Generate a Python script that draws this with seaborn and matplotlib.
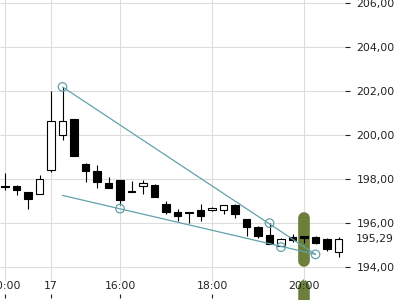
import numpy as np
import pandas as pd
import matplotlib
matplotlib.use("Agg")
import matplotlib.pyplot as plt
import matplotlib.transforms as mtransforms
from matplotlib.patches import Polygon
import seaborn as sns

# ---- data ----
tick_pos = [0, 4, 10, 18, 26]
tick_labels = ["20:00", "17", "16:00", "18:00", "20:00"]
y_ticks = [194, 196, 198, 200, 202, 204, 206]
y_tick_labels = ["194,00", "196,00", "198,00", "200,00", "202,00", "204,00", "206,00"]

opens = [197.68, 197.70, 197.42, 197.33, 198.41, 200.00, 200.74, 198.70, 198.39, 197.83,
         197.97, 197.45, 197.70, 197.74, 196.88, 196.53, 196.51, 196.60, 196.59, 196.60,
         196.83, 196.18, 195.85, 195.45, 194.97, 195.38, 195.41, 195.38, 195.27, 194.68]
highs = [198.29, 197.75, 197.42, 198.20, 202.01, 202.20, 200.76, 198.72, 198.65, 198.09,
         197.98, 197.94, 197.97, 197.79, 197.01, 196.66, 196.52, 196.88, 196.74, 196.84,
         196.86, 196.19, 195.86, 196.03, 195.33, 195.51, 195.42, 195.42, 195.32, 195.36]
lows = [197.51, 197.27, 196.64, 197.33, 198.32, 199.79, 199.05, 197.89, 197.59, 197.61,
        196.83, 197.42, 197.32, 197.20, 196.41, 196.12, 196.03, 196.12, 196.55, 196.41,
        196.23, 195.42, 195.32, 195.04, 194.96, 195.16, 195.09, 195.08, 194.75, 194.48]
closes = [197.64, 197.50, 197.12, 198.01, 200.64, 200.64, 199.07, 198.39, 197.86, 197.62,
          197.04, 197.43, 197.85, 197.21, 196.50, 196.35, 196.49, 196.35, 196.70, 196.83,
          196.41, 195.85, 195.44, 195.05, 195.27, 195.24, 195.33, 195.09, 194.82, 195.29]

last_price = 195.29
last_label = "195,29"

upper_x = [5, 27]
upper_y = [202.20, 194.59]
lower_x = [5, 27]
lower_y = [197.27, 194.59]
pivot_x = [5, 23, 27, 10, 24]
pivot_y = [202.20, 196.01, 194.59, 196.67, 194.92]

highlight_x = 26
highlight_lo = 194.03
highlight_hi = 196.50

# ---- style ----
sns.set_theme(style="white")
plt.rcParams["font.family"] = ["DejaVu Sans"]

TEAL = "#62a2aa"
GREEN = "#6c7f3b"
GRID = "#dcdcdc"
TXT = "#222222"

fig = plt.figure(figsize=(4, 3), dpi=100)
ax = fig.add_axes([0, 1 - 281 / 300, 345 / 400, 281 / 300])
ax.set_xlim(-5 / 11.5, 340 / 11.5)
ax.set_ylim(193.38, 206.15)

for s in ax.spines.values():
    s.set_visible(False)

ax.set_axisbelow(True)
ax.grid(True, color=GRID, linewidth=0.8)

ax.set_xticks(tick_pos)
ax.set_xticklabels(tick_labels)
ax.tick_params(axis="x", length=0, pad=0.3, labelsize=7.8, labelcolor=TXT)

ax.yaxis.tick_right()
ax.set_yticks(y_ticks)
ax.set_yticklabels(y_tick_labels)
ax.tick_params(axis="y", direction="out", length=3.6, width=0.8, color=TXT,
               pad=4.6, labelsize=7.8, labelcolor=TXT, right=True, left=False)

# secondary axis for the small tick marks under the time labels
sec = ax.secondary_xaxis((281 - 297.5) / 281)
sec.set_xticks(tick_pos)
sec.tick_params(axis="x", direction="in", length=2.6, width=0.8, color=TXT,
                labelbottom=False, labeltop=False)
for s in sec.spines.values():
    s.set_visible(False)

df = pd.DataFrame({"open": opens, "high": highs, "low": lows, "close": closes})
df["x"] = np.arange(len(df))
df["up"] = df["close"] >= df["open"]

# highlight bar (rounded)
cap = 5.85 / 22.0
ax.plot([highlight_x, highlight_x], [highlight_lo + cap, highlight_hi - cap],
        color=GREEN, linewidth=8.4, solid_capstyle="round", zorder=1.5)

# arrow below axis
trans = mtransforms.blended_transform_factory(ax.transData, ax.transAxes)
arrow = Polygon([[highlight_x - 0.5, -0.0167], [highlight_x - 0.3, -0.003],
                 [highlight_x, 0.0071], [highlight_x + 0.3, -0.003],
                 [highlight_x + 0.5, -0.0167],
                 [highlight_x + 0.5, -0.1], [highlight_x - 0.5, -0.1]],
                closed=True, transform=trans, facecolor=GREEN, edgecolor="none",
                clip_on=False, zorder=0.3)
ax.add_patch(arrow)

# candles
ax.vlines(df["x"], df["low"], df["high"], color="black", linewidth=0.8, zorder=2)
body_bottom = df[["open", "close"]].min(axis=1)
body_height = (df["open"] - df["close"]).abs()
face = ["white" if u else "black" for u in df["up"]]
ax.bar(df["x"], body_height, bottom=body_bottom, width=0.68, color=face,
       edgecolor="black", linewidth=0.8, zorder=3)

# trend lines
tl = pd.DataFrame({"x": upper_x + lower_x, "y": upper_y + lower_y,
                   "line": ["u", "u", "l", "l"]})
sns.lineplot(data=tl, x="x", y="y", units="line", estimator=None, color=TEAL,
             linewidth=0.9, ax=ax, zorder=4, legend=False)
pv = pd.DataFrame({"x": pivot_x, "y": pivot_y})
sns.scatterplot(data=pv, x="x", y="y", ax=ax, s=38, facecolor="none",
                edgecolor=TEAL, linewidth=0.9, zorder=5, legend=False)

ax.set_xlabel("")
ax.set_ylabel("")

ax.annotate(last_label, xy=(1, last_price), xycoords=("axes fraction", "data"),
            xytext=(7.9, 0), textcoords="offset points", va="center", ha="left",
            fontsize=7.8, color=TXT, annotation_clip=False)

fig.savefig("out.png", dpi=100)
